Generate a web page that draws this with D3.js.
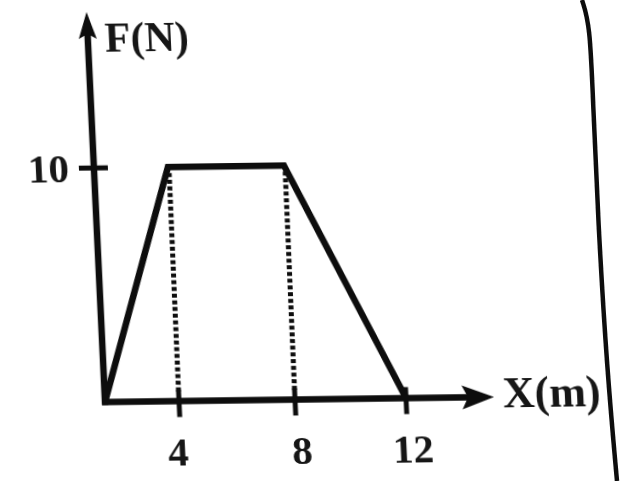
<!DOCTYPE html>
<html>
<head>
<meta charset="utf-8">
<script src="https://cdn.jsdelivr.net/npm/d3@7"></script>
<style>
  html, body { margin: 0; padding: 0; background: #ffffff; }
  svg { display: block; }
  text { font-family: "Liberation Serif", "DejaVu Serif", serif; font-weight: bold; fill: #141414; }
</style>
</head>
<body>
<div id="chart"></div>
<script>
// Force–displacement profile: F rises, holds, then falls back to zero.
const xValues = [0, 4, 8, 12];     // X (m)
const fValues = [0, 10, 10, 0];    // F (N)
const xTickValues = [4, 8, 12];
const yTickValues = [10];
const guideXs = [4, 8];            // dotted drop lines from the plateau corners
const xAxisLabel = "X(m)";
const yAxisLabel = "F(N)";

const W = 627, H = 481;
const ink = "#111111";

const svg = d3.select("#chart").append("svg")
  .attr("width", W).attr("height", H);

const defs = svg.append("defs");
defs.append("filter").attr("id", "soft")
  .append("feGaussianBlur").attr("stdDeviation", 0.5);

// Hand-sketched axis: the spacing between ticks is not uniform.
const x = d3.scaleLinear().domain([0, 4, 8, 12]).range([105, 179, 295, 406]);
const y = d3.scaleLinear().domain([0, 10]).range([402, 168]);

const x0 = x(0), y0 = y(0);
const xAxisEnd = 494, yAxisEnd = 12;

// Slight skew of the drawing on the page.
const shearX = 0.0474, shearY = -0.013;
const g = svg.append("g")
  .attr("filter", "url(#soft)")
  .attr("transform",
    `matrix(1,${shearY},${shearX},1,${-shearX * y0},${-shearY * x0})`);

// Axes
g.append("line")
  .attr("x1", x0).attr("y1", y0 + 3).attr("x2", x0).attr("y2", yAxisEnd + 18)
  .attr("stroke", ink).attr("stroke-width", 6.5);
g.append("line")
  .attr("x1", x0 - 3).attr("y1", y0).attr("x2", xAxisEnd - 24).attr("y2", y0)
  .attr("stroke", ink).attr("stroke-width", 6.5);

// Arrowheads
g.append("path")
  .attr("d", `M${x0},${yAxisEnd} L${x0 - 9},${yAxisEnd + 27} L${x0},${yAxisEnd + 22} L${x0 + 9},${yAxisEnd + 27} Z`)
  .attr("fill", ink);
g.append("path")
  .attr("d", `M${xAxisEnd},${y0} L${xAxisEnd - 32},${y0 - 12} L${xAxisEnd - 26},${y0} L${xAxisEnd - 32},${y0 + 12} Z`)
  .attr("fill", ink);

// Ticks crossing the axes
g.selectAll(".xtick").data(xTickValues).join("line")
  .attr("class", "xtick")
  .attr("x1", d => x(d)).attr("x2", d => x(d))
  .attr("y1", y0 - 11).attr("y2", y0 + 16)
  .attr("stroke", ink).attr("stroke-width", 5);
g.selectAll(".ytick").data(yTickValues).join("line")
  .attr("class", "ytick")
  .attr("x1", x0 - 15).attr("x2", x0 + 14)
  .attr("y1", d => y(d)).attr("y2", d => y(d))
  .attr("stroke", ink).attr("stroke-width", 5);

// Tick labels
g.selectAll(".xlab").data(xTickValues).join("text")
  .attr("class", "xlab")
  .attr("x", d => x(d) + (d === 4 ? -3 : 5))
  .attr("y", y0 + 64)
  .attr("text-anchor", "middle")
  .attr("font-size", 41)
  .text(d => d);
g.selectAll(".ylab").data(yTickValues).join("text")
  .attr("class", "ylab")
  .attr("x", x0 - 25)
  .attr("y", d => y(d) + 14)
  .attr("text-anchor", "end")
  .attr("font-size", 41)
  .text(d => d);

// Axis titles
g.append("text")
  .attr("x", x0 + 17).attr("y", yAxisEnd + 40)
  .attr("font-size", 42)
  .text(yAxisLabel);
g.append("text")
  .attr("x", xAxisEnd + 9).attr("y", y0 + 11)
  .attr("font-size", 44)
  .text(xAxisLabel);

// Dotted drop lines
g.selectAll(".guide").data(guideXs).join("line")
  .attr("class", "guide")
  .attr("x1", d => x(d) + 1).attr("x2", d => x(d))
  .attr("y1", y(10) + 6).attr("y2", y0 - 8)
  .attr("stroke", ink).attr("stroke-width", 5)
  .attr("stroke-dasharray", "4 2.7");

// The force curve
const pts = xValues.map((v, i) => [x(v), y(fValues[i])]);
g.append("path")
  .attr("d", d3.line()(pts))
  .attr("fill", "none")
  .attr("stroke", ink)
  .attr("stroke-width", 6.5)
  .attr("stroke-linejoin", "miter");

// Page margin rule at the right edge
const rule = [[582, 0], [590, 25], [593, 100], [598, 220], [607, 370], [617, 481]];
svg.append("path")
  .attr("d", d3.line().curve(d3.curveBasis)(rule))
  .attr("fill", "none")
  .attr("stroke", ink)
  .attr("stroke-width", 4.5)
  .attr("filter", "url(#soft)");
</script>
</body>
</html>
